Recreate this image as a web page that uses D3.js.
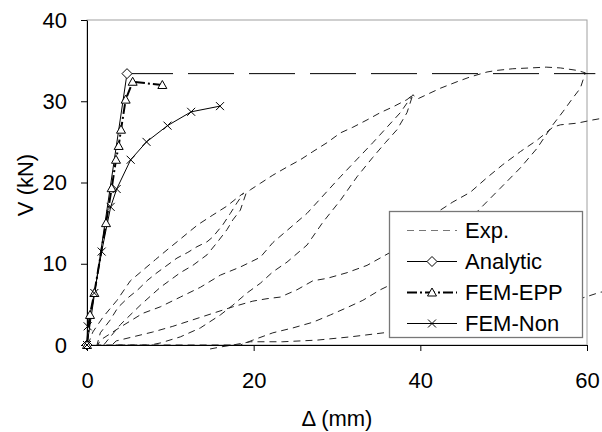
<!DOCTYPE html>
<html>
<head>
<meta charset="utf-8">
<script src="https://cdn.jsdelivr.net/npm/d3@7"></script>
<style>
  body { margin: 0; background: #fff; }
  text { font-family: "Liberation Sans", Arial, sans-serif; fill: #000; }
</style>
</head>
<body>
<script>
"use strict"

// all points are [Δ (mm), V (kN)]
const analytic = [[0, 0], [4.8, 33.4]]
const plateau  = [[4.8, 33.4], [61, 33.4]]

const femEpp = [[0, 0], [0.36, 3.7], [0.88, 6.4], [2.28, 15.0], [2.96, 19.3], [3.48, 22.8],
  [3.8, 24.5], [4.08, 26.5], [4.64, 30.2], [5.48, 32.4], [9.04, 32.0]]

const femNon = [[0, 0], [0.08, 2.3], [0.88, 6.4], [1.76, 11.5], [2.84, 17.0], [3.56, 19.2],
  [5.24, 22.8], [7.14, 25.0], [9.66, 27.0], [12.5, 28.7], [15.96, 29.4]]

// experimental hysteresis, branch by branch
const expLoad1 = [[0.1, 0], [0.7, 1.6], [1.9, 3.4], [3.6, 5.5], [5.2, 7.9], [6.7, 9.2], [8.2, 10.5],
  [9.6, 11.7], [10.8, 12.7], [12.1, 13.8], [13.3, 14.8], [15.1, 16.0], [16.8, 17.1], [18.0, 18.1], [18.8, 18.7]]
const expUnload1 = [[18.0, 17.5], [17.2, 16.2], [16.3, 14.8], [15.1, 13.3], [14.4, 12.7], [13.2, 12.1],
  [12.1, 11.4], [10.8, 10.7], [9.6, 9.8], [8.4, 8.9], [7.3, 8.0], [6.1, 6.8], [4.9, 5.8], [3.7, 4.6],
  [2.8, 3.1], [1.6, 1.5], [1.2, 0]]
const expReload1 = [[2.0, 0], [4.0, 2.5], [6.4, 4.9], [8.8, 7.1], [11.2, 8.9], [12.7, 9.8], [14.4, 11.1],
  [15.6, 12.6], [16.8, 14.2], [17.5, 15.4], [18.4, 16.6], [19.1, 18.7], [19.6, 19.1], [20.8, 19.9],
  [22.3, 20.9], [24.0, 21.9], [25.6, 22.8], [27.1, 23.8], [28.8, 24.9], [30.4, 26.1], [31.9, 26.8],
  [33.6, 27.7], [35.2, 28.6], [36.7, 29.3], [38.4, 30.2], [39.1, 30.8]]
const expUnload2 = [[38.4, 28.6], [37.2, 26.5], [35.8, 24.9], [34.3, 23.1], [32.4, 20.7], [30.4, 17.8],
  [28.3, 15.1], [26.4, 12.3], [24.0, 10.2], [22.3, 9.0], [20.8, 7.6], [19.2, 6.4], [17.5, 4.9],
  [16.0, 3.7], [13.6, 2.1], [11.2, 1.0], [8.8, 0.25], [7.6, 0]]
const expReload2 = [[1.3, 0], [1.6, 0.6], [4.0, 2.2], [6.7, 3.9], [8.8, 4.7], [11.2, 5.9], [13.6, 7.1],
  [16.0, 8.6], [18.4, 9.6], [20.8, 10.8], [22.3, 12.6], [26.4, 16.2], [30.4, 20.7], [34.3, 24.9],
  [37.6, 28.6], [39.1, 30.8], [39.7, 30.3], [42.4, 31.6], [44.4, 32.4], [46.0, 33.0], [48.0, 33.6],
  [49.2, 33.8], [51.1, 34.0], [53.2, 34.1], [55.1, 34.2], [56.8, 34.1], [58.8, 33.8], [59.8, 33.5]]
const expUnload3 = [[59.2, 31.6], [58.3, 30.4], [57.1, 28.7], [55.9, 27.1], [54.0, 24.2], [52.0, 21.8],
  [49.6, 19.3], [46.8, 16.4], [42.4, 12.3], [38.8, 9.2], [36.4, 7.4], [35.2, 6.8], [33.1, 5.5],
  [31.2, 4.6], [29.2, 3.7], [27.1, 2.8], [24.7, 2.1], [22.3, 1.5], [19.9, 0.6], [18.4, 0]]
const expReload3 = [[3.0, 0], [3.5, 0.5], [5.5, 1.0], [7.9, 1.6], [10.3, 2.3], [12.7, 3.1], [15.1, 3.9],
  [17.5, 4.7], [19.9, 5.4], [21.6, 5.7], [23.2, 5.9], [25.2, 6.8], [27.1, 7.9], [28.8, 8.2], [31.2, 8.9],
  [33.6, 9.8], [36.4, 11.4], [39.4, 13.9], [42.4, 16.6], [43.9, 17.6], [46.0, 18.8], [48.0, 20.6],
  [49.9, 22.2], [52.0, 23.8], [54.0, 25.2], [55.9, 26.8], [56.8, 27.1], [58.8, 27.3], [60.7, 27.7], [64, 28.3]]
const expLast = [[64, 6.8], [61.6, 6.5], [59.5, 5.8], [49.6, 3.3], [42.4, 2.1], [36.4, 1.6], [31.6, 1.0],
  [27.6, 0.6], [23.5, 0.4], [19.6, 0.4], [17.5, 0], [16.0, -0.25], [14.2, -0.6]]

const exp = [].concat(expLoad1, expUnload1, expReload1, expUnload2, expReload2, expUnload3, expReload3, expLast)

const xTicks = [0, 20, 40, 60]
const yTicks = [0, 10, 20, 30, 40]
const legendNames = ["Exp.", "Analytic", "FEM-EPP", "FEM-Non"]

// layout
const W = 602, H = 432
const plot = { left : 87, right : 587, top : 20, bottom : 345 }
const font = 22

const x = d3.scaleLinear().domain([0, 60]).range([plot.left, plot.right])
const y = d3.scaleLinear().domain([0, 40]).range([plot.bottom, plot.top])
const line = d3.line().x(d => x(d[0])).y(d => y(d[1]))

// marker shapes
const diamond  = "M0,-5L5,0L0,5L-5,0Z"
const triangle = "M0,-4.5L4.5,3.5L-4.5,3.5Z"
const cross    = "M-4,-4L4,4M-4,4L4,-4"

const svg = d3.select("body").append("svg")
  .attr("width", W)
  .attr("height", H)

// plot frame (top and right are light)
svg.append("rect")
  .attr("x", plot.left).attr("y", plot.top)
  .attr("width", plot.right - plot.left).attr("height", plot.bottom - plot.top)
  .attr("fill", "none").attr("stroke", "#a0a0a0")

// experimental curve
svg.append("path")
  .datum(exp)
  .attr("d", line)
  .attr("fill", "none")
  .attr("stroke", "#222")
  .attr("stroke-width", 1)
  .attr("stroke-dasharray", "7,5")

// axes
const xAxis = svg.append("g")
  .attr("transform", `translate(0,${plot.bottom})`)
  .call(d3.axisBottom(x).tickValues(xTicks).tickSize(6).tickSizeOuter(0).tickPadding(21))
const yAxis = svg.append("g")
  .attr("transform", `translate(${plot.left},0)`)
  .call(d3.axisLeft(y).tickValues(yTicks).tickSize(6).tickSizeOuter(0).tickPadding(14))

for (const g of [xAxis, yAxis]) {
  g.select(".domain").attr("stroke", "#000")
  g.selectAll(".tick line").attr("stroke", "#000")
  g.selectAll(".tick text")
    .style("font-family", "'Liberation Sans', Arial, sans-serif")
    .style("font-size", font + "px")
    .attr("fill", "#000")
}

// axis titles
svg.append("text")
  .attr("transform", "translate(33,185) rotate(-90)")
  .attr("text-anchor", "middle")
  .style("font-size", font + "px")
  .text("V (kN)")
svg.append("text")
  .attr("x", 337).attr("y", 426)
  .attr("text-anchor", "middle")
  .style("font-size", font + "px")
  .text("Δ (mm)")

// analytic plateau (long dashes)
svg.append("path")
  .datum(plateau)
  .attr("d", line)
  .attr("fill", "none").attr("stroke", "#000")
  .attr("stroke-dasharray", "46,15")

const series = [
  { data : analytic, dash : null,       width : 1, marker : diamond },
  { data : femEpp,   dash : "10,3,2,3", width : 2, marker : triangle },
  { data : femNon,   dash : null,       width : 1, marker : cross },
]

series.forEach(s => {
  svg.append("path")
    .datum(s.data)
    .attr("d", line)
    .attr("fill", "none").attr("stroke", "#000")
    .attr("stroke-width", s.width)
    .attr("stroke-dasharray", s.dash)
})

series.forEach(s => {
  svg.append("g").selectAll("path")
    .data(s.data)
    .join("path")
    .attr("transform", d => `translate(${x(d[0])},${y(d[1])})`)
    .attr("d", s.marker)
    .attr("fill", "#fff").attr("stroke", "#000").attr("stroke-width", 1)
})

// legend
const legend = svg.append("g")
legend.append("rect")
  .attr("x", 389.5).attr("y", 211.5).attr("width", 193).attr("height", 126)
  .attr("fill", "#fff").attr("stroke", "#777").attr("stroke-width", 1.3)

const rows = legend.selectAll("g.row")
  .data(legendNames)
  .join("g")
  .attr("class", "row")
  .attr("transform", (d, i) => `translate(0,${230.5 + i * 31})`)

rows.append("line")
  .attr("x1", 407).attr("x2", 457)
  .attr("stroke", (d, i) => i === 0 ? "#777" : "#000")
  .attr("stroke-width", (d, i) => i === 2 ? 2 : 1)
  .attr("stroke-dasharray", (d, i) => i === 0 ? "7,5" : i === 2 ? "10,3,2,3" : null)

rows.filter((d, i) => i > 0).append("path")
  .attr("transform", "translate(432,0)")
  .attr("d", (d, i) => [diamond, triangle, cross][i])
  .attr("fill", "#fff").attr("stroke", "#000")

rows.append("text")
  .attr("x", 465).attr("dy", "0.35em")
  .style("font-size", font + "px")
  .text(d => d)
</script>
</body>
</html>
